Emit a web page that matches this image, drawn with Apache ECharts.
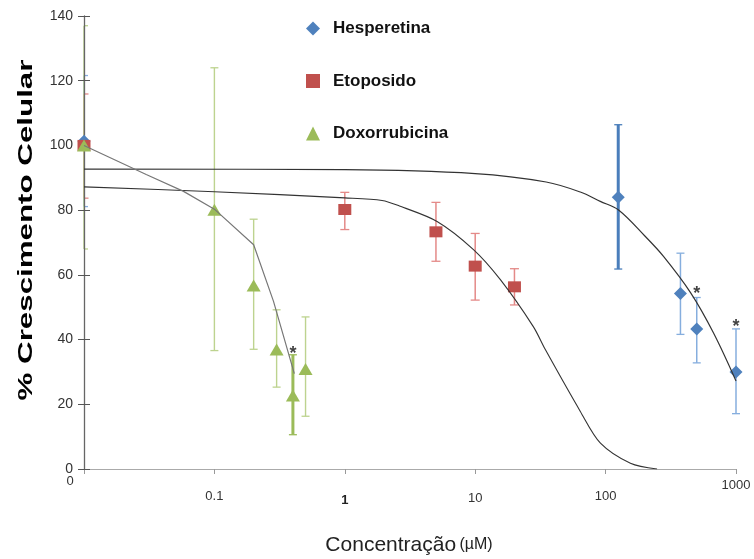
<!DOCTYPE html>
<html>
<head>
<meta charset="utf-8">
<script src="https://cdn.jsdelivr.net/npm/echarts@6/dist/echarts.min.js"></script>
<style>html,body{margin:0;padding:0;background:#fff}#c{width:754px;height:559px}</style>
</head>
<body>
<div id="c"></div>
<script>
// ---- data ----
const xTickValues = [0.01, 0.1, 1, 10, 100, 1000];
const xTickLabels = ['0', '0.1', '1', '10', '100', '1000'];
const yTicks = [0, 20, 40, 60, 80, 100, 120, 140];

const hespX = [0.01, 125, 375, 500, 1000];
const hespY = [101.3, 84, 54.2, 43.3, 30];
const hespLo = [20.2, 22.2, 12.6, 10.5, 12.9];
const hespHi = [20.3, 22.4, 12.5, 9.7, 13.3];

const etoX = [0.01, 1, 5, 10, 20];
const etoY = [100, 80.2, 73.3, 62.7, 56.3];
const etoLo = [16.3, 6.2, 9.1, 10.5, 5.6];
const etoHi = [15.9, 5.3, 9.1, 10.1, 5.6];

const doxX = [0.01, 0.1, 0.2, 0.3, 0.4, 0.5];
const doxY = [100, 80.1, 56.7, 36.9, 22.7, 30.9];
const doxLo = [32, 43.5, 19.7, 11.6, 12.1, 14.6];
const doxHi = [37, 43.9, 20.5, 12.3, 12.6, 16.1];

const hespCurveX = [0.01, 1, 10, 35, 64, 91, 125, 200, 278, 448, 671, 1000];
const hespCurveY = [92.7, 92.5, 91.3, 88.7, 85.6, 82.7, 80.1, 72, 65.7, 54.5, 42.1, 27.2];

const etoCurveX = [0.01, 0.1, 1, 1.93, 2.66, 5.1, 9.7, 15.6, 27.9, 34.5, 64, 91.3, 155, 248];
const etoCurveY = [87.2, 85.7, 83.8, 83, 81.2, 76.5, 67.8, 58.5, 44, 36.9, 17.8, 8, 1.8, 0];

const doxCurveX = [0.01, 0.03, 0.058, 0.1, 0.2, 0.284, 0.41];
const doxCurveY = [100, 91, 85.8, 80.3, 69.3, 51.8, 29.5];

const starX = [0.4, 500, 1000];
const starY = [37.5, 55.9, 45.6];

const names = ['Hesperetina', 'Etoposido', 'Doxorrubicina'];

// ---- helpers ----
const zip = (a, b) => a.map((v, i) => [v, b[i]]);
const zip4 = (a, b, c, d) => a.map((v, i) => [v, b[i], c[i], d[i]]);

function errRender(color, widthFor, cap) {
  return function (params, api) {
    const x = api.value(0), y = api.value(1), lo = api.value(2), hi = api.value(3);
    const t = api.coord([x, y + hi]);
    const b = api.coord([x, y - lo]);
    const left = api.coord([xTickValues[0], 0])[0];
    const atEdge = Math.abs(t[0] - left) < 0.5;
    const l = atEdge ? t[0] : t[0] - cap;
    const r = t[0] + cap;
    const w = widthFor(params.dataIndex);
    const st = { stroke: color(params.dataIndex), lineWidth: w };
    const cs = { stroke: color(params.dataIndex), lineWidth: 1.3 };
    return {
      type: 'group',
      children: [
        { type: 'line', shape: { x1: t[0], y1: t[1], x2: b[0], y2: b[1] }, style: st },
        { type: 'line', shape: { x1: l, y1: t[1], x2: r, y2: t[1] }, style: cs },
        { type: 'line', shape: { x1: l, y1: b[1], x2: r, y2: b[1] }, style: cs }
      ]
    };
  };
}

const FONT = '"Liberation Sans", Arial, sans-serif';
const chart = echarts.init(document.getElementById('c'), null, { renderer: 'canvas' });

const labelRich = {
  a0: { padding: [0, 28, 0, 0], fontSize: 13, color: '#333', fontFamily: FONT },
  a1: { padding: [15, 0, 0, 0], fontSize: 13, color: '#333', fontFamily: FONT },
  a2: { padding: [19, 0, 0, 0], fontSize: 13, color: '#222', fontFamily: FONT, fontWeight: 'bold' },
  a3: { padding: [17, 0, 0, 0], fontSize: 13, color: '#333', fontFamily: FONT },
  a4: { padding: [15, 0, 0, 0], fontSize: 13, color: '#333', fontFamily: FONT },
  a5: { padding: [4, 0, 0, 0], fontSize: 13, color: '#333', fontFamily: FONT }
};

const option = {
  backgroundColor: '#fff',
  animation: false,
  grid: { left: 84, right: 18, top: 16, bottom: 90 },
  legend: {
    orient: 'vertical',
    left: 301,
    top: 15,
    itemGap: 35.5,
    itemWidth: 14,
    itemHeight: 14,
    data: [
      { name: names[0], icon: 'diamond' },
      { name: names[1], icon: 'rect' },
      { name: names[2], icon: 'triangle' }
    ],
    textStyle: { fontSize: 17, fontWeight: 'bold', color: '#111', fontFamily: FONT, padding: [0, 0, 0, 8] }
  },
  xAxis: {
    type: 'log',
    logBase: 10,
    min: xTickValues[0],
    max: xTickValues[xTickValues.length - 1],
    z: 1,
    splitLine: { show: false },
    axisLine: { lineStyle: { color: '#aaa', width: 1.2 } },
    axisTick: { length: 5, lineStyle: { color: '#999' } },
    minorTick: { show: false },
    axisLabel: {
      margin: 6,
      formatter: function (v) {
        const i = Math.round(Math.log10(v)) + 2;
        return '{a' + i + '|' + xTickLabels[i] + '}';
      },
      rich: labelRich
    }
  },
  yAxis: [{
    type: 'value',
    min: yTicks[0],
    max: yTicks[yTicks.length - 1],
    interval: 20,
    z: 10,
    splitLine: { show: false },
    axisLine: { show: true, lineStyle: { color: '#666', width: 1.3 } },
    axisTick: { show: true, length: 6, lineStyle: { color: '#555' } },
    axisLabel: { margin: 11, fontSize: 14, color: '#333', fontFamily: FONT }
  }, {
    type: 'value',
    position: 'left',
    min: yTicks[0],
    max: yTicks[yTicks.length - 1],
    interval: 20,
    z: 10,
    splitLine: { show: false },
    axisLine: { show: false },
    axisTick: { show: true, inside: true, length: 6, lineStyle: { color: '#555' } },
    axisLabel: { show: false }
  }],
  graphic: [
    {
      type: 'text',
      x: 26, y: 230,
      rotation: Math.PI / 2,
      scaleX: 1.49,
      style: {
        text: '% Crescimento Celular',
        font: 'bold 21px ' + FONT,
        fill: '#000',
        align: 'center',
        verticalAlign: 'middle'
      }
    },
    {
      type: 'text',
      x: 409, y: 545,
      style: {
        text: '{a|Concentração} {b|(µM)}',
        align: 'center',
        verticalAlign: 'middle',
        rich: {
          a: { fontSize: 21, fontFamily: FONT, fill: '#222' },
          b: { fontSize: 16, fontFamily: FONT, fill: '#222' }
        }
      }
    }
  ],
  series: [
    // error bars
    {
      type: 'custom', name: 'errH', z: 2, silent: true,
      renderItem: errRender(i => (i === 1 ? '#4a7ebb' : '#86aede'), i => (i === 1 ? 3 : 1.5), 4),
      encode: { x: 0, y: 1 },
      data: zip4(hespX, hespY, hespLo, hespHi)
    },
    {
      type: 'custom', name: 'errE', z: 2, silent: true,
      renderItem: errRender(i => '#e48a88', i => 1.5, 4.5),
      encode: { x: 0, y: 1 },
      data: zip4(etoX, etoY, etoLo, etoHi)
    },
    {
      type: 'custom', name: 'errD', z: 2, silent: true,
      renderItem: errRender(i => (i === 4 ? '#9bbb59' : '#bdd38f'), i => (i === 4 ? 3 : 1.4), 4),
      encode: { x: 0, y: 1 },
      data: zip4(doxX, doxY, doxLo, doxHi)
    },
    // markers
    {
      type: 'scatter', name: names[0], symbol: 'diamond', symbolSize: 13, z: 11,
      itemStyle: { color: '#4f81bd', opacity: 1 },
      data: zip(hespX, hespY)
    },
    {
      type: 'scatter', name: names[1], symbol: 'rect', symbolSize: [13, 11], z: 11,
      itemStyle: { color: '#c0504d', opacity: 1 },
      data: zip(etoX, etoY)
    },
    {
      type: 'scatter', name: names[2], symbol: 'triangle', symbolSize: [14, 12], z: 11,
      itemStyle: { color: '#9bbb59', opacity: 1 },
      data: zip(doxX, doxY)
    },
    // fitted curves
    {
      type: 'line', name: 'fitH', showSymbol: false, smooth: 0.35, z: 12, silent: true,
      lineStyle: { color: '#333', width: 1.2 },
      data: zip(hespCurveX, hespCurveY)
    },
    {
      type: 'line', name: 'fitE', showSymbol: false, smooth: 0.3, z: 12, silent: true,
      lineStyle: { color: '#333', width: 1.1 },
      data: zip(etoCurveX, etoCurveY)
    },
    {
      type: 'line', name: 'fitD', showSymbol: false, smooth: false, z: 12, silent: true,
      lineStyle: { color: '#777', width: 1.2 },
      data: zip(doxCurveX, doxCurveY)
    },
    // significance stars
    {
      type: 'scatter', name: 'stars', symbolSize: 2, z: 13, silent: true,
      itemStyle: { color: 'rgba(0,0,0,0)' },
      label: { show: true, position: 'inside', formatter: '*', fontSize: 18, fontWeight: 'bold', color: '#111', fontFamily: FONT, offset: [0, 6] },
      data: zip(starX, starY)
    }
  ]
};
chart.setOption(option);
</script>
</body>
</html>
